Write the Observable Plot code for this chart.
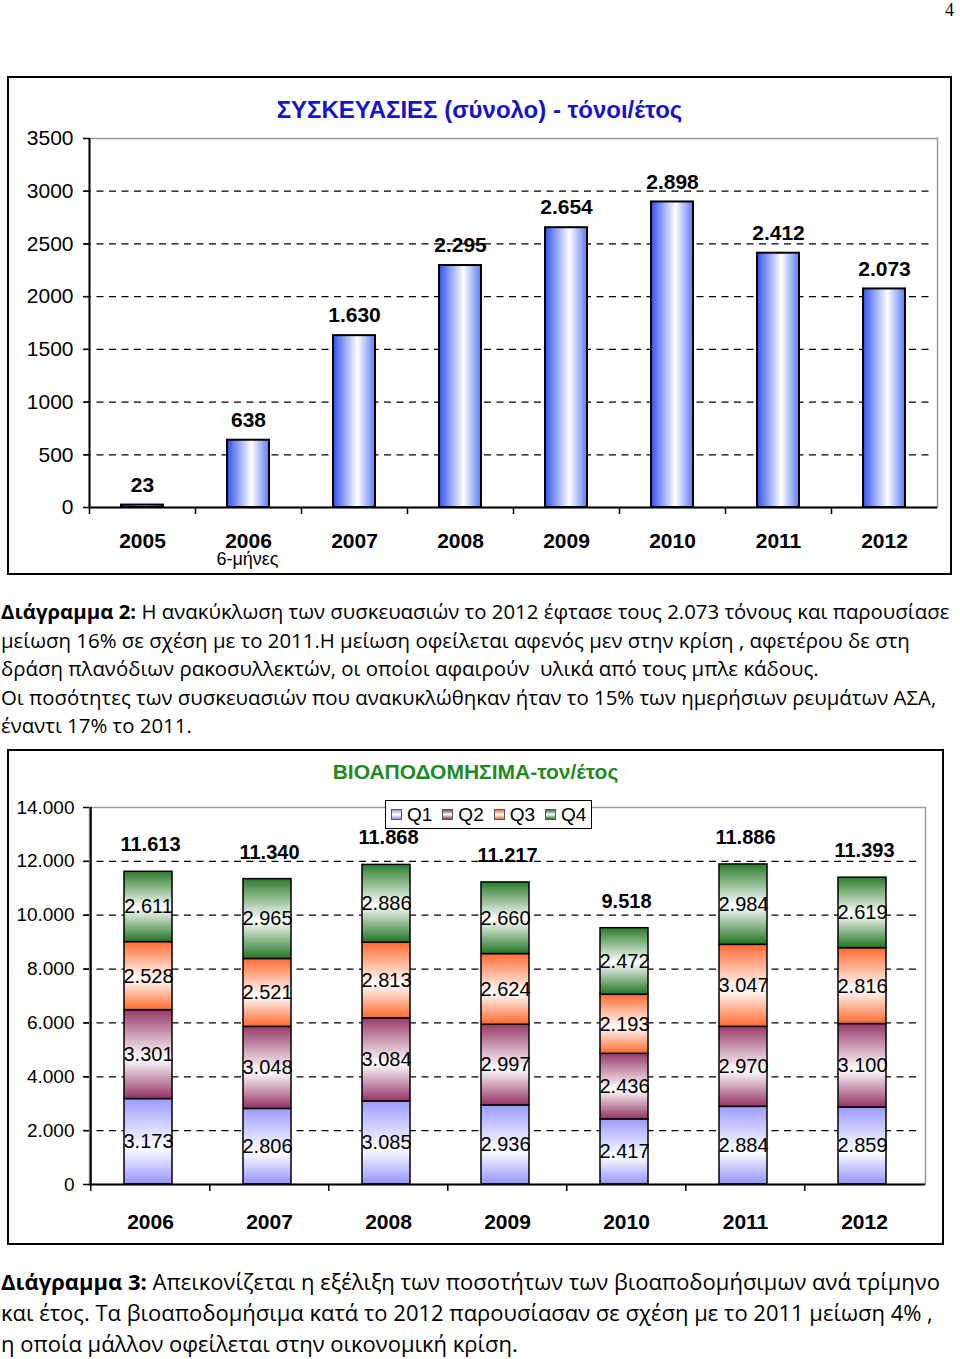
<!DOCTYPE html>
<html><head><meta charset="utf-8">
<script src="https://cdn.jsdelivr.net/npm/d3@7"></script>
<script src="https://cdn.jsdelivr.net/npm/@observablehq/plot@0.6"></script>
<style>
body{margin:0;background:#fff;font-family:"Liberation Sans",Arial,sans-serif;}
#page{position:relative;width:960px;height:1359px;overflow:hidden;}
.frame{position:absolute;border:2px solid #000;box-sizing:border-box;background:#fff;}
.frame .plot{position:absolute;left:0;top:0;}
.title{position:absolute;left:0;right:0;text-align:center;font-weight:bold;white-space:nowrap;}
.caption{position:absolute;left:1px;font-family:"Open Sans","Noto Sans",sans-serif;white-space:nowrap;color:#000;}
#pnum{position:absolute;left:945px;top:1px;font-family:"Liberation Serif",serif;font-size:18px;line-height:18px;}
.legend{position:absolute;border:1px solid #000;background:#fff;box-sizing:border-box;display:flex;align-items:center;font-size:19px;padding-left:5px;}
.legend span{flex:none;}
.legend span.sw{display:inline-block;width:9px;height:9px;border:1px solid #555;margin:0 5px 0 0;}
.legend span.lb{margin-right:10px;}
</style></head>
<body><div id="page">
<div id="pnum">4</div>
<div class="frame" id="f1" style="left:7px;top:76px;width:945px;height:499px;">
  <div class="title" style="top:18px;font-size:24px;color:#1414cc;">ΣΥΣΚΕΥΑΣΙΕΣ (σύνολο) - τόνοι/έτος</div>
</div>
<div class="caption" style="top:597px;font-size:20.4px;line-height:28.6px;">
<b>Διάγραμμα 2:</b> Η ανακύκλωση των συσκευασιών το 2012 έφτασε τους 2.073 τόνους και παρουσίασε<br>
μείωση 16% σε σχέση με το 2011.Η μείωση οφείλεται αφενός μεν στην κρίση , αφετέρου δε στη<br>
δράση πλανόδιων ρακοσυλλεκτών, οι οποίοι αφαιρούν &nbsp;υλικά από τους μπλε κάδους.<br>
Οι ποσότητες των συσκευασιών που ανακυκλώθηκαν ήταν το 15% των ημερήσιων ρευμάτων ΑΣΑ,<br>
έναντι 17% το 2011.
</div>
<div class="frame" id="f2" style="left:7px;top:749px;width:937px;height:496px;">
  <div class="title" style="top:9px;font-size:21px;color:#1f8a1f;">ΒΙΟΑΠΟΔΟΜΗΣΙΜΑ-τον/έτος</div>
  <div class="legend" id="leg" style="left:376px;top:49px;width:207px;height:29px;"></div>
</div>
<div class="caption" style="top:1266px;font-size:22px;line-height:31px;">
<b>Διάγραμμα 3:</b> Απεικονίζεται η εξέλιξη των ποσοτήτων των βιοαποδομήσιμων ανά τρίμηνο<br>
και έτος. Τα βιοαποδομήσιμα κατά το 2012 παρουσίασαν σε σχέση με το 2011 μείωση 4% ,<br>
η οποία μάλλον οφείλεται στην οικονομική κρίση.
</div>
</div>
<script>
// ---------- DATA ----------
const years1 = ["2005","2006","2007","2008","2009","2010","2011","2012"];
const packaging = [23, 638, 1630, 2295, 2654, 2898, 2412, 2073];
const yTicks1 = [0, 500, 1000, 1500, 2000, 2500, 3000, 3500];
const note2006 = "6-μήνες";

const years2 = ["2006","2007","2008","2009","2010","2011","2012"];
const quarters = ["Q1","Q2","Q3","Q4"];
const q1 = [3173, 2806, 3085, 2936, 2417, 2884, 2859];
const q2 = [3301, 3048, 3084, 2997, 2436, 2970, 3100];
const q3 = [2528, 2521, 2813, 2624, 2193, 3047, 2816];
const q4 = [2611, 2965, 2886, 2660, 2472, 2984, 2619];
const totals = [11613, 11340, 11868, 11217, 9518, 11886, 11393];
const yTicks2 = [0, 2000, 4000, 6000, 8000, 10000, 12000, 14000];

// ---------- helpers ----------
const fmt = d3.formatLocale({decimal: ",", thousands: ".", grouping: [3], currency: ["", ""]}).format(",d");
const FONT = "Liberation Sans, Arial, sans-serif";
function addGradient(svg, id, stops, vertical) {
  let defs = d3.select(svg).select("defs");
  if (defs.empty()) defs = d3.select(svg).insert("defs", ":first-child");
  const g = defs.append("linearGradient").attr("id", id)
    .attr("x1", 0).attr("y1", 0).attr("x2", vertical ? 0 : 1).attr("y2", vertical ? 1 : 0);
  stops.forEach(([o, c]) => g.append("stop").attr("offset", o).attr("stop-color", c));
}
const quarterStops = {
  Q1: [[0, "#9c9cff"], [0.58, "#ffffff"], [1, "#9494ff"]],
  Q2: [[0, "#983a6a"], [0.55, "#ffffff"], [1, "#943364"]],
  Q3: [[0, "#ff6a33"], [0.55, "#ffffff"], [1, "#ff6a2e"]],
  Q4: [[0, "#2c7d2c"], [0.52, "#ffffff"], [1, "#237523"]]
};

// ---------- CHART 1 ----------
{
  const W = 941, H = 495, ml = 80, mr = 13, mt = 60, mb = 66;
  const step = (W - ml - mr) / years1.length;
  const data = years1.map((year, i) => ({year, value: packaging[i]}));
  const plot = Plot.plot({
    width: W, height: H, marginLeft: ml, marginRight: mr, marginTop: mt, marginBottom: mb,
    style: {fontFamily: FONT, background: "transparent", color: "#000", overflow: "visible"},
    x: {domain: years1, paddingInner: 0.6, paddingOuter: 0.3},
    y: {domain: [0, 3500]},
    marks: [
      Plot.ruleY(yTicks1.filter(d => d > 0 && d < 3500), {stroke: "#000", strokeWidth: 1.3, strokeDasharray: "7,5.5", dx: -5}),
      Plot.frame({stroke: "#9a9a9a", strokeWidth: 1.5}),
      Plot.barY(data, {x: "year", y: "value", fill: "url(#gradPack)", stroke: "#000", strokeWidth: 2}),
      Plot.text(data, {x: "year", y: "value", text: d => fmt(d.value), dy: -20, fontSize: 21, fontWeight: "bold", fill: "#000"}),
      Plot.ruleY([0], {stroke: "#000", strokeWidth: 2}),
      Plot.ruleX([years1[0]], {dx: -step / 2, stroke: "#000", strokeWidth: 2}),
      Plot.axisY({ticks: yTicks1, tickSize: 6, tickPadding: 10, tickFormat: d => String(d), fontSize: 21, strokeWidth: 1.5, label: null}),
      Plot.axisX({tickSize: 7, tickFormat: () => "", dx: -step / 2, strokeWidth: 1.5, label: null}),
      Plot.text(years1, {x: d => d, y: () => 0, text: d => d, dy: 34, fontSize: 21, fontWeight: "bold", fill: "#000"}),
      Plot.text([note2006], {x: () => "2006", y: () => 0, text: d => d, dy: 52, dx: -1, fontSize: 18, fill: "#000"})
    ]
  });
  plot.classList.add("plot");
  addGradient(plot, "gradPack", [[0, "#2f52ea"], [0.58, "#ffffff"], [1, "#5f7cf6"]], false);
  document.getElementById("f1").prepend(plot);
}

// ---------- CHART 2 ----------
{
  const W = 933, H = 492, ml = 80, mr = 17, mt = 56, mb = 59;
  const step = (W - ml - mr) / years2.length;
  const series = {Q1: q1, Q2: q2, Q3: q3, Q4: q4};
  const data = years2.flatMap((year, i) => quarters.map(q => ({year, q, value: series[q][i]})));
  const tot = years2.map((year, i) => ({year, total: totals[i]}));
  const plot = Plot.plot({
    width: W, height: H, marginLeft: ml, marginRight: mr, marginTop: mt, marginBottom: mb,
    style: {fontFamily: FONT, background: "transparent", color: "#000", overflow: "visible"},
    x: {domain: years2, paddingInner: 0.6, paddingOuter: 0.3},
    y: {domain: [0, 14000]},
    color: {domain: quarters, range: quarters.map(q => `url(#grad${q})`)},
    marks: [
      Plot.ruleY(yTicks2.filter(d => d > 0 && d < 14000), {stroke: "#000", strokeWidth: 1.3, strokeDasharray: "7,5.5", dx: -5}),
      Plot.frame({stroke: "#9a9a9a", strokeWidth: 1.5}),
      Plot.barY(data, {x: "year", y: "value", fill: "q", stroke: "#000", strokeWidth: 1.5, dx: -2}),
      Plot.text(data, Plot.stackY({x: "year", y: "value", text: d => fmt(d.value), fontSize: 20, fill: "#000", dx: -2})),
      Plot.text(tot, {x: "year", y: "total", text: d => fmt(d.total), dy: -27, fontSize: 20, fontWeight: "bold", fill: "#000"}),
      Plot.ruleY([0], {stroke: "#000", strokeWidth: 2}),
      Plot.ruleX([years2[0]], {dx: -step / 2, stroke: "#000", strokeWidth: 2}),
      Plot.axisY({ticks: yTicks2, tickSize: 6, tickPadding: 9, tickFormat: d => fmt(d), fontSize: 19, strokeWidth: 1.5, label: null}),
      Plot.axisX({tickSize: 7, tickFormat: () => "", dx: -step / 2, strokeWidth: 1.5, label: null}),
      Plot.text(years2, {x: d => d, y: () => 0, text: d => d, dy: 38, fontSize: 21, fontWeight: "bold", fill: "#000"})
    ]
  });
  plot.classList.add("plot");
  quarters.forEach(q => addGradient(plot, `grad${q}`, quarterStops[q], true));
  document.getElementById("f2").prepend(plot);

  // legend
  const leg = document.getElementById("leg");
  quarters.forEach(q => {
    const sw = document.createElement("span");
    sw.className = "sw";
    const s = quarterStops[q];
    sw.style.background = `linear-gradient(${s[0][1]}, #fff, ${s[2][1]})`;
    const lb = document.createElement("span");
    lb.className = "lb";
    lb.textContent = q;
    leg.append(sw, lb);
  });
}
</script>
</body></html>
